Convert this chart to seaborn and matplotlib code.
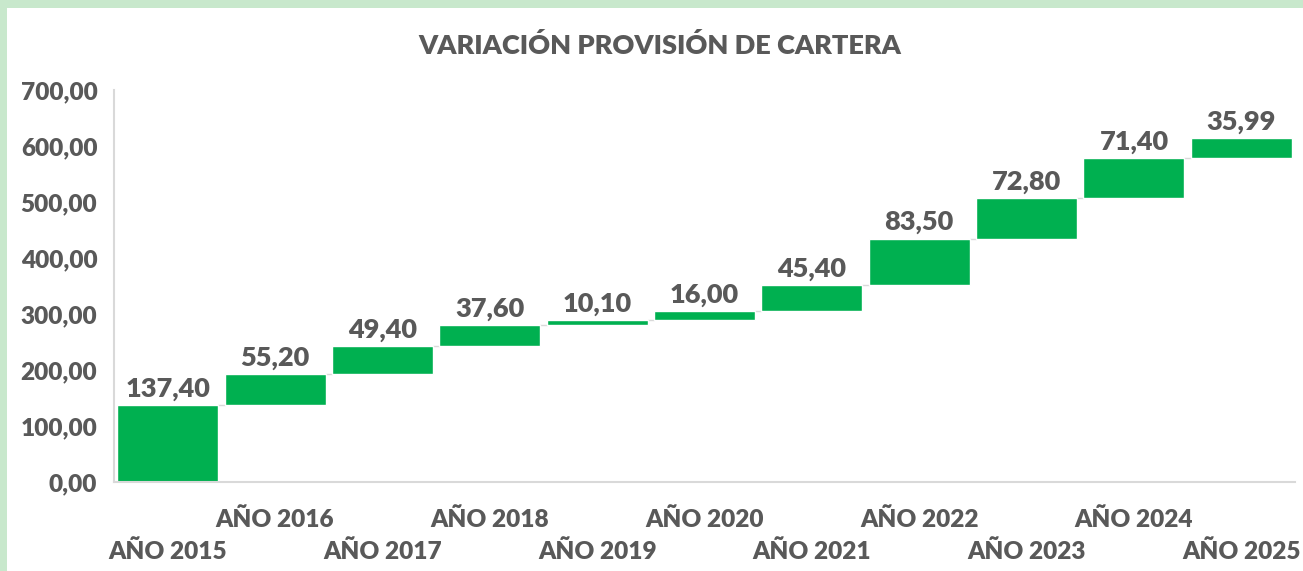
import numpy as np
import pandas as pd
import matplotlib.pyplot as plt
import seaborn as sns
from matplotlib.patches import Rectangle

# waterfall data: yearly variation of the provision
years = ["AÑO 2015", "AÑO 2016", "AÑO 2017", "AÑO 2018", "AÑO 2019", "AÑO 2020",
         "AÑO 2021", "AÑO 2022", "AÑO 2023", "AÑO 2024", "AÑO 2025"]
variation = [137.40, 55.20, 49.40, 37.60, 10.10, 16.00, 45.40, 83.50, 72.80, 71.40, 35.99]
y_ticks = [0, 100, 200, 300, 400, 500, 600, 700]

GREEN = "#00B050"
TEXT = "#595959"
AXIS = "#D9D9D9"
WEIGHT = "heavy"

sns.set_theme(style="white")
plt.rcParams["font.family"] = ["Lato", "DejaVu Sans"]

df = pd.DataFrame({"year": years, "value": variation})
df["top"] = df["value"].cumsum()
df["base"] = df["top"] - df["value"]

fig = plt.figure(figsize=(13.03, 5.71), dpi=100, facecolor="#C8E8CC")
# white panel inside the green frame
fig.patches.append(Rectangle((7 / 1303, 0), 1, 1 - 8 / 571, transform=fig.transFigure,
                             facecolor="white", edgecolor="none", zorder=-5))
ax = fig.add_axes([114 / 1303, 1 - 482 / 571, (1295 - 114) / 1303, (482 - 90) / 571])
ax.set_facecolor("none")

sns.barplot(data=df, x="year", y="value", bottom=df["base"], color=GREEN,
            width=0.94, saturation=1, ax=ax, zorder=2)

# connectors between steps
xs = np.arange(len(df))
for i in range(len(df) - 1):
    ax.plot([xs[i] + 0.47, xs[i + 1] - 0.47], [df["top"][i], df["top"][i]],
            color=AXIS, lw=1, zorder=1)

for i, row in df.iterrows():
    ax.annotate(f"{row['value']:.2f}".replace(".", ","), (i, row["top"]),
                xytext=(0, 3), textcoords="offset points", ha="center", va="bottom",
                fontsize=19.5, fontweight=WEIGHT, color=TEXT)

ax.set_ylim(0, 700)
ax.set_xlim(-0.5, len(df) - 0.5)
ax.set_yticks(y_ticks)
ax.set_yticklabels([f"{v:.2f}".replace(".", ",") for v in y_ticks])
ax.set_xticks(xs)
ax.set_xticklabels(years)
ax.tick_params(axis="both", length=0, labelsize=17.6, labelcolor=TEXT)
ax.tick_params(axis="y", pad=12)
# staggered category labels, as in the original
for i, tick in enumerate(ax.xaxis.get_major_ticks()):
    tick.set_pad(42 if i % 2 == 0 else 19)
for lab in ax.get_xticklabels() + ax.get_yticklabels():
    lab.set_fontweight(WEIGHT)
ax.set_xlabel("")
ax.set_ylabel("")
for side in ["top", "right"]:
    ax.spines[side].set_visible(False)
for side in ["left", "bottom"]:
    ax.spines[side].set_color(AXIS)
    ax.spines[side].set_linewidth(1.5)

fig.text(660 / 1303, 1 - 45 / 571, "VARIACIÓN PROVISIÓN DE CARTERA", ha="center",
         va="center", fontsize=19.5, fontweight=WEIGHT, color=TEXT)

fig.savefig("out.png", dpi=100, facecolor=fig.get_facecolor())
